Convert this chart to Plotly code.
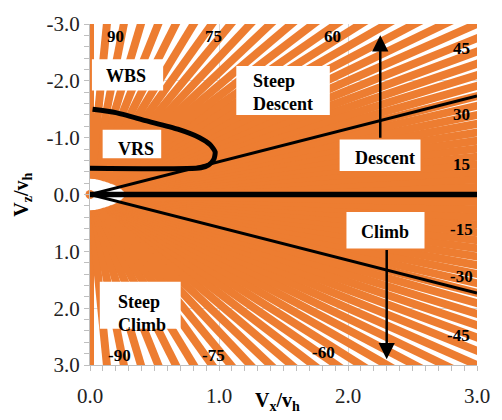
import math
import plotly.graph_objects as go

# ---- data ----
# flight-path angles of the fan of constant-angle lines (deg, + = descent)
ANGLES = [-90.0, -87.5, -85.0, -82.5, -80.0, -77.5, -75.0, -72.5, -70.0, -67.5,
          -65.0, -62.5, -60.0, -57.5, -55.0, -52.5, -50.0, -47.5, -45.0, -42.5,
          -40.0, -37.5, -35.0, -32.5, -30.0, -27.5, -25.0, -22.5, -20.0, -17.5,
          -15.0, -12.5, -10.0, -7.5, -5.0, -2.5, 0.0, 2.5, 5.0, 7.5, 10.0, 12.5,
          15.0, 17.5, 20.0, 22.5, 25.0, 27.5, 30.0, 32.5, 35.0, 37.5, 40.0, 42.5,
          45.0, 47.5, 50.0, 52.5, 55.0, 57.5, 60.0, 62.5, 65.0, 67.5, 70.0, 72.5,
          75.0, 77.5, 80.0, 82.5, 85.0, 87.5, 90.0]
V_START = 0.28
V_END = 6.0

# VRS boundary (Vx, Vz)
VRS_X = [0.02, 0.20, 0.43, 0.68, 0.85, 0.93, 0.97, 0.96, 0.92, 0.86, 0.0]
VRS_Z = [-1.50, -1.44, -1.30, -1.15, -1.00, -0.88, -0.75, -0.62, -0.52, -0.47, -0.46]

# boundary lines
HORIZ_X = [0.0, 3.0]
HORIZ_Z = [0.0, 0.0]
BOUND_ANGLES = [30, -30]

# angle labels (text, Vx, Vz)
ANGLE_LABELS = ["90", "75", "60", "45", "30", "15",
                "-15", "-30", "-45", "-60", "-75", "-90"]
ANGLE_LAB_X = [0.20, 0.96, 1.88, 2.88, 2.88, 2.88,
               2.88, 2.88, 2.86, 1.81, 0.96, 0.23]
ANGLE_LAB_Z = [-2.78, -2.78, -2.78, -2.57, -1.40, -0.53,
               0.62, 1.45, 2.48, 2.78, 2.83, 2.83]

XTICKS = [0, 1, 2, 3]
XTICK_TEXT = ["0.0", "1.0", "2.0", "3.0"]
YTICKS = [-3, -2, -1, 0, 1, 2, 3]
YTICK_TEXT = ["-3.0", "-2.0", "-1.0", "0.0", "1.0", "2.0", "3.0"]

ORANGE = "#ED7D31"
SERIF = "'Liberation Serif', 'Times New Roman', Times, 'DejaVu Serif', serif"

fig = go.Figure()

for a in ANGLES:
    r = math.radians(a)
    xs = [V_START * math.cos(r), V_END * math.cos(r)]
    zs = [-V_START * math.sin(r), -V_END * math.sin(r)]
    fig.add_trace(go.Scatter(x=xs, y=zs, mode="lines",
                             line=dict(color=ORANGE, width=8),
                             hoverinfo="skip"))

fig.add_trace(go.Scatter(x=[0], y=[0], mode="markers",
                         marker=dict(color=ORANGE, size=9), cliponaxis=False))

for a in BOUND_ANGLES:
    r = math.radians(a)
    fig.add_trace(go.Scatter(x=[0, 3.0], y=[0, -3.0 * math.tan(r)], mode="lines",
                             line=dict(color="black", width=3)))

fig.add_trace(go.Scatter(x=HORIZ_X, y=HORIZ_Z, mode="lines",
                         line=dict(color="black", width=5.5)))
fig.add_trace(go.Scatter(x=VRS_X, y=VRS_Z, mode="lines",
                         line=dict(color="black", width=5, shape="spline", smoothing=0.6)))

# white text boxes
boxes = [
    (0.015, 0.567, -2.379, -1.828),
    (0.098, 0.552, -1.138, -0.638),
    (1.134, 1.859, -2.259, -1.397),
    (1.935, 2.562, -0.966, -0.414),
    (1.988, 2.593, 0.310, 0.948),
    (0.076, 0.703, 1.534, 2.362),
]
for x0, x1, y0, y1 in boxes:
    fig.add_shape(type="rect", x0=x0, x1=x1, y0=y0, y1=y1, xref="x", yref="y",
                  fillcolor="white", line=dict(width=0), layer="above")

box_font = dict(family=SERIF, size=18, color="black")
texts = [
    ("<b>WBS</b>", 0.28, -2.09),
    ("<b>VRS</b>", 0.355, -0.80),
    ("<b>Descent</b>", 2.29, -0.64),
    ("<b>Climb</b>", 2.29, 0.655),
]
for t, x, y in texts:
    fig.add_annotation(x=x, y=y, text=t, showarrow=False, font=box_font,
                       xanchor="center", yanchor="middle")
fig.add_annotation(x=1.25, y=-1.80, text="<b>Steep<br>Descent</b>", showarrow=False,
                   font=box_font, xanchor="left", align="left", yanchor="middle")
fig.add_annotation(x=0.20, y=2.09, text="<b>Steep<br>Climb</b>", showarrow=False,
                   font=box_font, xanchor="left", align="left", yanchor="middle")

for t, x, y in zip(ANGLE_LABELS, ANGLE_LAB_X, ANGLE_LAB_Z):
    fig.add_annotation(x=x, y=y, text="<b>" + t + "</b>", showarrow=False,
                       xanchor="center", yanchor="middle",
                       font=dict(family=SERIF, size=17, color="black"))

# arrows
fig.add_annotation(x=2.25, y=-2.80, ax=2.25, ay=-0.97, axref="x", ayref="y",
                   xref="x", yref="y", text="", showarrow=True, arrowhead=2,
                   arrowsize=1.3, arrowwidth=2.5, arrowcolor="black", standoff=0)
fig.add_annotation(x=2.30, y=2.90, ax=2.30, ay=0.95, axref="x", ayref="y",
                   xref="x", yref="y", text="", showarrow=True, arrowhead=2,
                   arrowsize=1.3, arrowwidth=2.5, arrowcolor="black", standoff=0)

# axis titles
fig.add_annotation(xref="paper", yref="paper", x=-0.175, y=0.5,
                   xanchor="center", yanchor="middle",
                   text="<b>V<sub>z</sub>/v<sub>h</sub></b>", textangle=-90,
                   showarrow=False, font=dict(family=SERIF, size=20, color="black"))
fig.add_annotation(xref="paper", yref="paper", x=0.484, y=-0.108,
                   xanchor="center", yanchor="middle",
                   text="<b>V<sub>x</sub>/v<sub>h</sub></b>",
                   showarrow=False, font=dict(family=SERIF, size=20, color="black"))

axis_common = dict(showgrid=True, gridcolor="#d9d9d9", gridwidth=1,
                   zeroline=False, showline=True, linecolor="#bfbfbf", linewidth=1,
                   ticks="outside", ticklen=5, tickcolor="#bfbfbf",
                   tickfont=dict(family=SERIF, size=21, color="#222222"))

fig.update_xaxes(range=[0, 3], tickvals=XTICKS, ticktext=XTICK_TEXT,
                 minor=dict(dtick=0.1, ticks="outside", ticklen=5, tickcolor="#bfbfbf",
                            showgrid=False),
                 ticklabelstandoff=7, **axis_common)
fig.update_yaxes(range=[3, -3], tickvals=YTICKS, ticktext=YTICK_TEXT,
                 minor=dict(dtick=0.2, ticks="outside", ticklen=5, tickcolor="#bfbfbf",
                            showgrid=False),
                 **axis_common)

fig.update_layout(width=502, height=420, margin=dict(l=90, r=15, t=17, b=55),
                  plot_bgcolor="white", paper_bgcolor="white", showlegend=False)

fig.write_html("out.html")
